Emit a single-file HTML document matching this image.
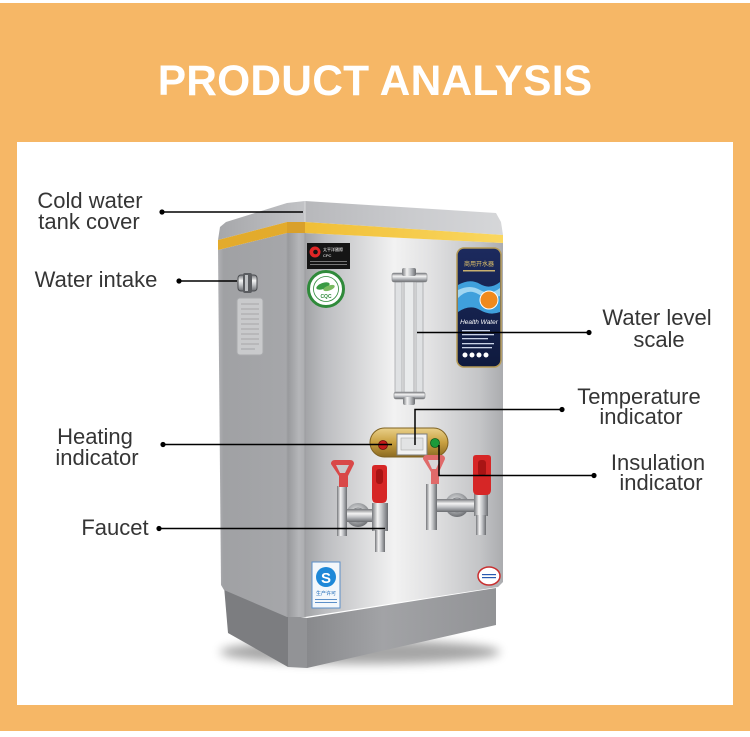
<!DOCTYPE html>
<html><head><meta charset="utf-8">
<style>
html,body{margin:0;padding:0;background:#fff;}
svg{display:block;}
</style></head><body>
<svg width="750" height="737" viewBox="0 0 750 737" xmlns="http://www.w3.org/2000/svg" font-family="'Liberation Sans', Arial, sans-serif">
<defs>
 <linearGradient id="front" x1="305" y1="0" x2="503" y2="0" gradientUnits="userSpaceOnUse">
  <stop offset="0" stop-color="#a2a3a6"/>
  <stop offset="0.1" stop-color="#bcbdc0"/>
  <stop offset="0.45" stop-color="#f2f2f2"/>
  <stop offset="0.62" stop-color="#e3e3e4"/>
  <stop offset="0.88" stop-color="#c4c5c7"/>
  <stop offset="1" stop-color="#abacaf"/>
 </linearGradient>
 <linearGradient id="side" x1="218" y1="0" x2="288" y2="0" gradientUnits="userSpaceOnUse">
  <stop offset="0" stop-color="#b0b1b4"/>
  <stop offset="0.08" stop-color="#a0a1a4"/>
  <stop offset="1" stop-color="#a6a7aa"/>
 </linearGradient>
 <linearGradient id="corner" x1="287" y1="0" x2="307" y2="0" gradientUnits="userSpaceOnUse">
  <stop offset="0" stop-color="#96979a"/>
  <stop offset="0.6" stop-color="#b5b6b9"/>
  <stop offset="1" stop-color="#a9aaad"/>
 </linearGradient>
 <linearGradient id="lid" x1="305" y1="0" x2="503" y2="0" gradientUnits="userSpaceOnUse">
  <stop offset="0" stop-color="#b7b8bb"/>
  <stop offset="0.5" stop-color="#c9cacd"/>
  <stop offset="1" stop-color="#d6d7d9"/>
 </linearGradient>
 <linearGradient id="lidside" x1="218" y1="0" x2="305" y2="0" gradientUnits="userSpaceOnUse">
  <stop offset="0" stop-color="#a6a7aa"/>
  <stop offset="1" stop-color="#c2c3c6"/>
 </linearGradient>
 <linearGradient id="yel" x1="305" y1="0" x2="503" y2="0" gradientUnits="userSpaceOnUse">
  <stop offset="0" stop-color="#f0be36"/>
  <stop offset="1" stop-color="#fad75f"/>
 </linearGradient>
 <linearGradient id="basef" x1="307" y1="0" x2="496" y2="0" gradientUnits="userSpaceOnUse">
  <stop offset="0" stop-color="#88898c"/>
  <stop offset="0.4" stop-color="#a2a3a6"/>
  <stop offset="1" stop-color="#929396"/>
 </linearGradient>
 <linearGradient id="chromeV" x1="0" y1="0" x2="1" y2="0">
  <stop offset="0" stop-color="#75777b"/>
  <stop offset="0.35" stop-color="#f4f4f4"/>
  <stop offset="0.6" stop-color="#c4c6c9"/>
  <stop offset="1" stop-color="#6a6c70"/>
 </linearGradient>
 <linearGradient id="chromeH" x1="0" y1="0" x2="0" y2="1">
  <stop offset="0" stop-color="#75777b"/>
  <stop offset="0.35" stop-color="#f4f4f4"/>
  <stop offset="0.6" stop-color="#c4c6c9"/>
  <stop offset="1" stop-color="#6a6c70"/>
 </linearGradient>
 <radialGradient id="flange" cx="0.45" cy="0.4" r="0.6">
  <stop offset="0" stop-color="#f2f2f2"/>
  <stop offset="0.6" stop-color="#a9abae"/>
  <stop offset="1" stop-color="#6e7074"/>
 </radialGradient>
 <linearGradient id="gold" x1="0" y1="0" x2="0" y2="1">
  <stop offset="0" stop-color="#e9d08a"/>
  <stop offset="0.5" stop-color="#c8a040"/>
  <stop offset="1" stop-color="#8c6a22"/>
 </linearGradient>
 <linearGradient id="navy" x1="0" y1="0" x2="0" y2="1">
  <stop offset="0" stop-color="#1c2a5e"/>
  <stop offset="1" stop-color="#0f1a3e"/>
 </linearGradient>
 <filter id="blur" x="-20%" y="-200%" width="140%" height="500%">
  <feGaussianBlur stdDeviation="5"/>
 </filter>
</defs>

<!-- background -->
<rect x="0" y="3" width="750" height="728" fill="#f6b766"/>
<rect x="17" y="142" width="716" height="563" fill="#ffffff"/>

<text x="375" y="95" text-anchor="middle" font-size="42.5" font-weight="bold" fill="#ffffff" letter-spacing="0.2">PRODUCT ANALYSIS</text>

<!-- shadow -->
<ellipse cx="360" cy="652" rx="140" ry="12" fill="#000" opacity="0.35" filter="url(#blur)"/>

<!-- base -->
<polygon points="224,586 288,615 288,667 228,633" fill="#7c7d80"/>
<polygon points="288,615 307,618 307,668 288,667" fill="#929396"/>
<polygon points="307,618 496,588 496,625 307,668" fill="url(#basef)"/>

<!-- body side -->
<polygon points="218,250 287,233 287,617 224,590 221,585" fill="url(#side)"/>
<!-- corner -->
<polygon points="287,233 305,233 305,617 287,617" fill="url(#corner)"/>
<!-- front -->
<polygon points="305,233 503,243 503,582 498,587 305,617" fill="url(#front)"/>
<line x1="305" y1="233" x2="305" y2="617" stroke="#9c9da0" stroke-width="1"/>
<line x1="287" y1="233" x2="287" y2="617" stroke="#a0a1a4" stroke-width="1"/>

<!-- lid -->
<polygon points="218,240 220,227 226,222 287,203 305,201 305,222 287,222" fill="url(#lidside)"/>
<polygon points="305,201 496,213 501,222 503,235 305,222" fill="url(#lid)"/>
<line x1="305" y1="201" x2="305" y2="222" stroke="#d8d9db" stroke-width="1"/>
<!-- yellow band -->
<polygon points="218,240 287,222 305,222 305,233 287,233 218,250" fill="#e3ab2c"/>
<polygon points="287,222 305,222 305,233 287,233" fill="#d9a02a"/>
<polygon points="305,222 503,235 503,243 305,233" fill="url(#yel)"/>

<!-- side sticker -->
<rect x="237" y="298" width="26" height="57" rx="3" fill="#c9cacc" stroke="#a9aaad" stroke-width="1"/>
<g stroke="#9a9b9e" stroke-width="0.8">
 <line x1="241" y1="304" x2="259" y2="304"/><line x1="241" y1="309" x2="259" y2="309"/>
 <line x1="241" y1="314" x2="259" y2="314"/><line x1="241" y1="319" x2="259" y2="319"/>
 <line x1="241" y1="324" x2="259" y2="324"/><line x1="241" y1="329" x2="259" y2="329"/>
 <line x1="241" y1="334" x2="259" y2="334"/><line x1="241" y1="339" x2="259" y2="339"/>
 <line x1="241" y1="344" x2="259" y2="344"/><line x1="241" y1="349" x2="255" y2="349"/>
</g>
<!-- water intake knob -->
<rect x="238" y="275" width="19" height="16" rx="3" fill="url(#chromeH)" stroke="#4a4c50" stroke-width="1"/>
<rect x="243" y="273" width="9" height="20" rx="2" fill="#5a5c60"/>
<rect x="245" y="275" width="3" height="16" fill="#c0c2c5"/>

<!-- black label -->
<rect x="307" y="243" width="43" height="26" fill="#151515"/>
<circle cx="315" cy="252" r="5.5" fill="#e02626"/>
<circle cx="315.5" cy="252" r="2.3" fill="#151515"/>
<text x="323" y="251" font-size="4" fill="#ffffff" font-family="'Liberation Sans','Noto Sans CJK SC',sans-serif">太平洋國際</text>
<text x="323" y="257" font-size="4" fill="#ffffff">CPC</text>
<rect x="310" y="261" width="37" height="1" fill="#777"/>
<rect x="310" y="264" width="37" height="1" fill="#777"/>

<!-- CQC -->
<circle cx="326" cy="289" r="17.5" fill="#ffffff" stroke="#2f8a3a" stroke-width="3"/>
<circle cx="326" cy="289" r="12.5" fill="#ffffff" stroke="#2f8a3a" stroke-width="0.8"/>
<ellipse cx="323" cy="286" rx="7" ry="3" fill="#3a9a44" transform="rotate(-20 323 286)"/>
<ellipse cx="329" cy="288" rx="6" ry="2.5" fill="#7aba60" transform="rotate(-20 329 288)"/>
<text x="326" y="298" font-size="5" text-anchor="middle" fill="#2f8a3a" font-weight="bold">CQC</text>

<!-- water level tube -->
<rect x="395" y="282" width="7" height="113" fill="#dfe1e3" stroke="#a6a8ab" stroke-width="0.8"/>
<rect x="404" y="280" width="10" height="118" fill="#e9ebec" stroke="#9a9c9f" stroke-width="0.8"/>
<rect x="416" y="282" width="7" height="113" fill="#dfe1e3" stroke="#a6a8ab" stroke-width="0.8"/>
<rect x="392" y="273" width="35" height="9" rx="2" fill="url(#chromeH)" stroke="#85878a" stroke-width="0.6"/>
<rect x="402" y="268" width="14" height="8" rx="2" fill="url(#chromeV)"/>
<rect x="394" y="392" width="31" height="7" rx="2" fill="url(#chromeH)" stroke="#85878a" stroke-width="0.6"/>
<rect x="403" y="397" width="12" height="8" rx="2" fill="url(#chromeV)"/>

<!-- blue panel -->
<rect x="457" y="248" width="44" height="119" rx="7" fill="url(#navy)" stroke="#b59a55" stroke-width="1.5"/>
<text x="479" y="266" font-size="6" text-anchor="middle" fill="#e8c86a" font-family="'Liberation Sans','Noto Sans CJK SC',sans-serif">商用开水器</text>
<rect x="463" y="270" width="32" height="1.5" fill="#c8b070"/>
<path d="M458,285 Q470,278 480,284 T500,282 L500,312 Q490,316 480,310 T458,312 Z" fill="#3fa0dc"/>
<path d="M458,290 Q470,284 480,290 T500,288 L500,296 Q488,300 478,294 T458,298 Z" fill="#9fd6f2"/>
<circle cx="489" cy="300" r="9" fill="#f08a1e" stroke="#fff" stroke-width="1"/>
<text x="479" y="324" font-size="6.5" text-anchor="middle" fill="#ffffff" font-style="italic">Health Water</text>
<g fill="#c9d2e6">
 <rect x="462" y="330" width="28" height="1.3"/><rect x="462" y="334" width="32" height="1.3"/>
 <rect x="462" y="338" width="26" height="1.3"/><rect x="462" y="343" width="32" height="1.3"/>
 <rect x="462" y="347" width="30" height="1.3"/>
</g>
<g fill="#ffffff"><circle cx="465" cy="355" r="2.5"/><circle cx="472" cy="355" r="2.5"/><circle cx="479" cy="355" r="2.5"/><circle cx="486" cy="355" r="2.5"/></g>

<!-- indicator panel -->
<rect x="370" y="428" width="78" height="29" rx="14.5" fill="url(#gold)" stroke="#7f6222" stroke-width="1"/>
<rect x="397" y="434" width="30" height="21" fill="#f2f2f2" stroke="#7c7c7c" stroke-width="1"/>
<rect x="401" y="438" width="22" height="12" fill="#e2e3e4" stroke="#aaa" stroke-width="0.6"/>
<circle cx="383" cy="445" r="4.5" fill="#c41a1a" stroke="#6a1010" stroke-width="0.8"/>
<circle cx="435" cy="443" r="4.5" fill="#1a9a3a" stroke="#0c5a20" stroke-width="0.8"/>

<!-- left faucet pair -->
<circle cx="358" cy="515" r="12" fill="url(#flange)"/>
<circle cx="358" cy="515" r="7" fill="#b9bbbe" stroke="#7a7c80" stroke-width="0.8"/>
<rect x="346" y="509" width="28" height="13" fill="url(#chromeH)"/>
<rect x="337" y="486" width="10" height="50" fill="url(#chromeV)"/>
<path d="M331,464 q0,-4 4,-4 h15 q4,0 4,4 l-6,12 v11 h-9 v-11 z" fill="#d94848"/>
<path d="M336,465 h13 l-4,8 h-5 z" fill="#c9c9cb"/>
<rect x="372" y="503" width="16" height="28" fill="url(#chromeV)"/>
<rect x="375" y="530" width="10" height="22" fill="url(#chromeV)"/>
<path d="M372,468 q0,-3 3,-3 h9 q3,0 3,3 v30 q0,5 -5,5 h-5 q-5,0 -5,-5 z" fill="#d62626"/>
<rect x="376" y="469" width="7" height="15" rx="3" fill="#a81414"/>

<!-- right faucet pair -->
<circle cx="457" cy="505" r="12" fill="url(#flange)"/>
<circle cx="457" cy="505" r="7" fill="#b9bbbe" stroke="#7a7c80" stroke-width="0.8"/>
<rect x="437" y="499" width="38" height="13" fill="url(#chromeH)"/>
<rect x="426" y="484" width="11" height="46" fill="url(#chromeV)"/>
<path d="M423,459 q0,-4 4,-4 h14 q4,0 4,4 l-6,13 v12 h-8 v-12 z" fill="#e06a6a"/>
<path d="M428,460 h12 l-4,9 h-4 z" fill="#d6d6d8"/>
<rect x="474" y="494" width="14" height="22" fill="url(#chromeV)"/>
<rect x="476" y="515" width="10" height="20" fill="url(#chromeV)"/>
<path d="M473,458 q0,-3 3,-3 h12 q3,0 3,3 v32 q0,5 -5,5 h-8 q-5,0 -5,-5 z" fill="#d62626"/>
<rect x="478" y="460" width="8" height="16" rx="3" fill="#a81414"/>

<!-- Q sticker -->
<rect x="312" y="562" width="28" height="46" fill="#f3f7fb" stroke="#5b8fc9" stroke-width="1"/>
<circle cx="326" cy="577" r="10" fill="#1e88d8"/>
<text x="326" y="583" font-size="15" font-weight="bold" text-anchor="middle" fill="#ffffff">S</text>
<text x="326" y="595" font-size="5" text-anchor="middle" fill="#1e6ab8" font-family="'Liberation Sans','Noto Sans CJK SC',sans-serif">生产许可</text>
<rect x="315" y="599" width="22" height="1" fill="#5b8fc9"/>
<rect x="315" y="602" width="22" height="1" fill="#5b8fc9"/>

<!-- round sticker -->
<ellipse cx="489" cy="576" rx="11" ry="9" fill="#ffffff" stroke="#c83030" stroke-width="1.5"/>
<rect x="482" y="574" width="14" height="1.2" fill="#2a5ab0"/>
<rect x="482" y="577" width="14" height="1.2" fill="#2a5ab0"/>

<!-- leader lines -->
<g stroke="#000" stroke-width="1.5" fill="none">
 <line x1="162" y1="212" x2="303" y2="212"/>
 <line x1="179" y1="281" x2="237" y2="281"/>
 <line x1="417" y1="332.5" x2="589" y2="332.5"/>
 <polyline points="562,409.5 415,409.5 415,445"/>
 <line x1="163" y1="444.5" x2="392" y2="444.5"/>
 <polyline points="439,445 439,475.5 594,475.5"/>
 <line x1="159" y1="528.5" x2="385" y2="528.5"/>
</g>
<g fill="#000">
 <circle cx="162" cy="212" r="2.6"/>
 <circle cx="179" cy="281" r="2.6"/>
 <circle cx="589" cy="332.5" r="2.6"/>
 <circle cx="562" cy="409.5" r="2.6"/>
 <circle cx="163" cy="444.5" r="2.6"/>
 <circle cx="594" cy="475.5" r="2.6"/>
 <circle cx="159" cy="528.5" r="2.6"/>
</g>

<!-- labels -->
<g font-size="22" fill="#353535" text-anchor="middle">
 <text x="90" y="208">Cold water</text>
 <text x="89" y="229">tank cover</text>
 <text x="96" y="287">Water intake</text>
 <text x="95" y="444">Heating</text>
 <text x="97" y="465">indicator</text>
 <text x="115" y="535">Faucet</text>
 <text x="657" y="325">Water level</text>
 <text x="659" y="347">scale</text>
 <text x="639" y="404">Temperature</text>
 <text x="641" y="424">indicator</text>
 <text x="658" y="470">Insulation</text>
 <text x="661" y="490">indicator</text>
</g>
</svg>
</body></html>
